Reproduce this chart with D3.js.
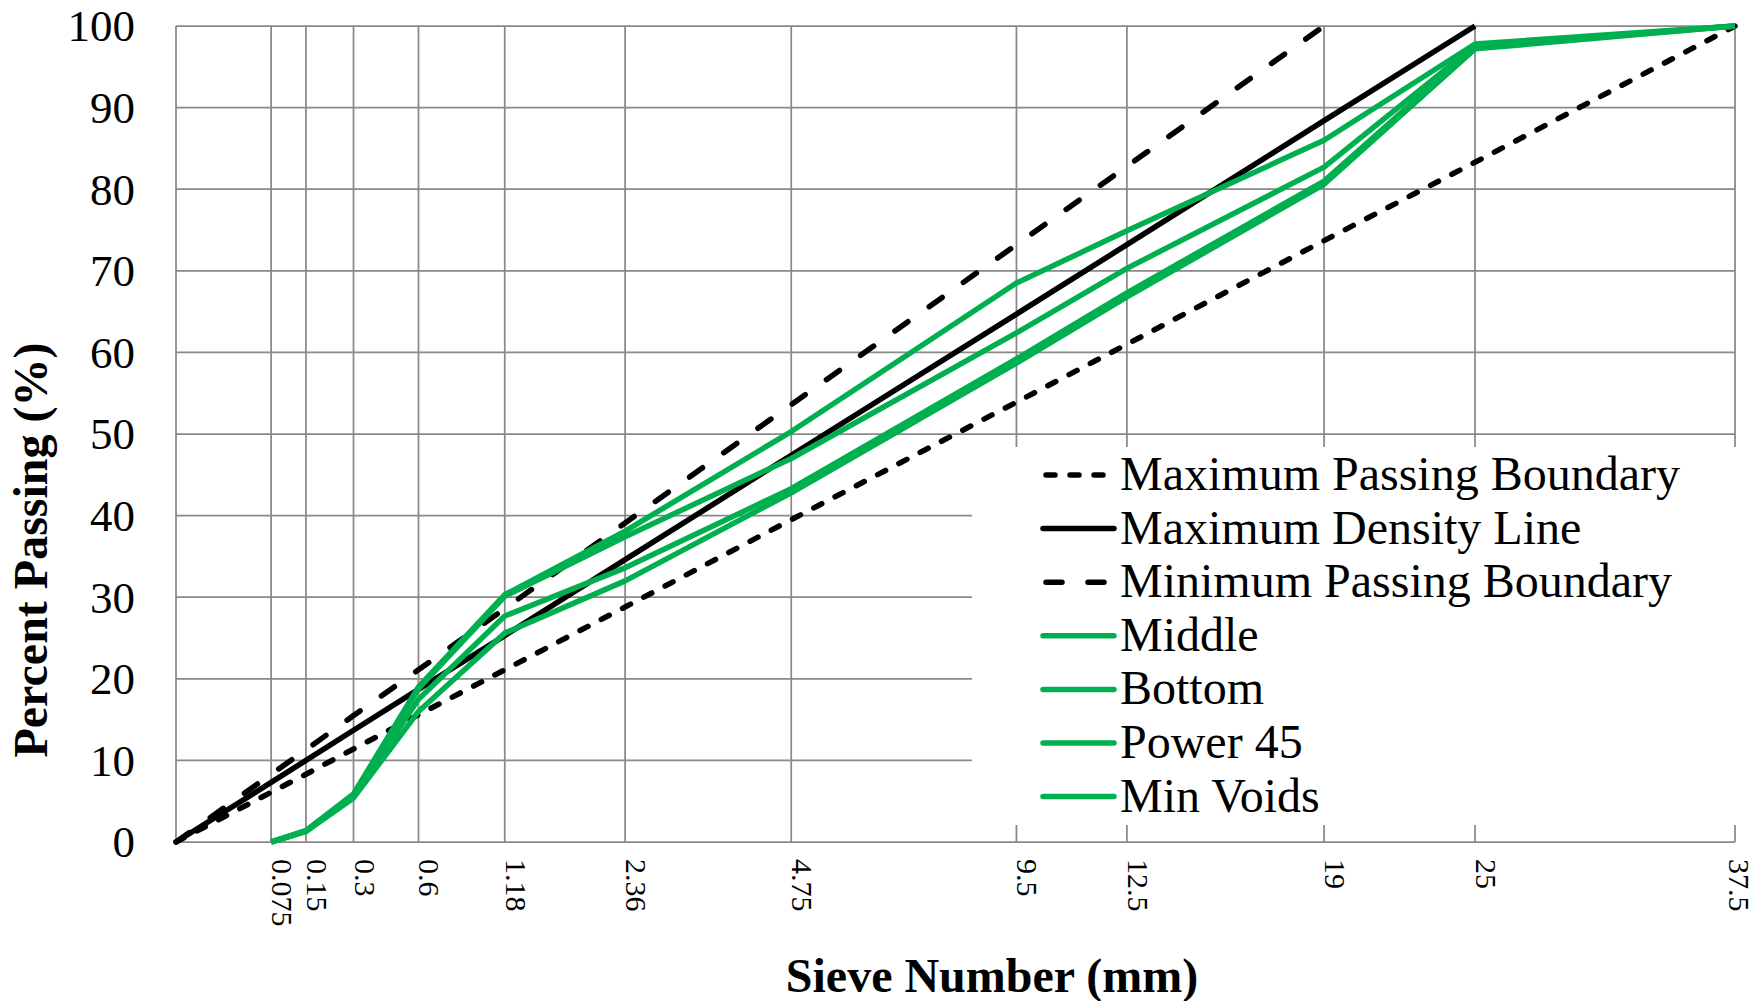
<!DOCTYPE html>
<html>
<head>
<meta charset="utf-8">
<script src="https://cdn.jsdelivr.net/npm/d3@7"></script>
<style>
  body { margin: 0; background: #fff; }
  svg text { font-family: "Liberation Serif", "Times New Roman", serif; fill: #000; }
</style>
</head>
<body>
<div id="chart"></div>
<script>
// sieve sizes (mm) and their labels
const sieves = [0.075, 0.15, 0.3, 0.6, 1.18, 2.36, 4.75, 9.5, 12.5, 19, 25, 37.5];
const sieveLabels = ['0.075', '0.15', '0.3', '0.6', '1.18', '2.36', '4.75', '9.5', '12.5', '19', '25', '37.5'];
const yTicks = [0, 10, 20, 30, 40, 50, 60, 70, 80, 90, 100];

// reference lines, all starting at the origin
const maxPassSizes = [0, 0.075, 0.15, 0.3, 0.6, 1.18, 2.36, 4.75, 9.5, 12.5, 19, 25, 37.5];
const maxPassing   = [0, 6.1, 8.3, 11.4, 15.6, 21.1, 28.8, 39.5, 53.9, 61.0, 73.7, 83.3, 100];
const mdlSizes     = [0, 0.075, 0.15, 0.3, 0.6, 1.18, 2.36, 4.75, 9.5, 12.5, 19, 25];
const maxDensity   = [0, 7.3, 10.0, 13.7, 18.7, 25.3, 34.6, 47.4, 64.7, 73.2, 88.4, 100];
const minPassSizes = [0, 0.075, 0.15, 0.3, 0.6, 1.18, 2.36, 4.75, 9.5, 12.5, 19];
const minPassing   = [0, 8.3, 11.3, 15.5, 21.1, 28.6, 39.1, 53.6, 73.2, 82.8, 100];

// measured gradations (on the sieves above)
const middle   = [0, 1.4, 5.9, 19.0, 30.3, 38.1, 50.3, 68.5, 74.9, 86.0, 97.8, 100];
const bottom   = [0, 1.3, 5.6, 17.5, 27.7, 33.6, 43.3, 59.2, 67.3, 81.0, 97.4, 100];
const power45  = [0, 1.4, 5.8, 18.8, 30.1, 37.4, 47.0, 62.4, 70.3, 82.7, 97.6, 100];
const minVoids = [0, 1.3, 5.4, 16.0, 25.6, 32.0, 42.8, 58.7, 66.8, 80.6, 97.2, 100];

const width = 1755, height = 1001;
const plotLeft = 176, plotRight = 1735, plotTop = 26, plotBottom = 842;
const green = '#00b050';

const svg = d3.select('#chart').append('svg')
    .attr('width', width)
    .attr('height', height);

// 0.45 power chart
const x = d3.scalePow().exponent(0.45).domain([0, 37.5]).range([plotLeft, plotRight]);
const y = d3.scaleLinear().domain([0, 100]).range([plotBottom, plotTop]);

const grid = svg.append('g').attr('stroke', '#898989').attr('stroke-width', 1.75);
grid.selectAll('.h').data(yTicks).enter().append('line')
    .attr('x1', plotLeft).attr('x2', plotRight)
    .attr('y1', d => y(d)).attr('y2', d => y(d));
grid.selectAll('.v').data([0].concat(sieves)).enter().append('line')
    .attr('x1', d => x(d)).attr('x2', d => x(d))
    .attr('y1', plotTop).attr('y2', plotBottom);

// y tick labels
svg.append('g').selectAll('text').data(yTicks).enter().append('text')
    .attr('x', 135)
    .attr('y', d => y(d))
    .attr('dy', '0.34em')
    .attr('text-anchor', 'end')
    .style('font-size', '45px')
    .text(d => d);

// rotated sieve labels (the last one kept inside the picture)
const labelX = d => Math.min(x(d) + 1, width - 26);
svg.append('g').selectAll('text').data(sieves).enter().append('text')
    .attr('x', d => labelX(d))
    .attr('y', 859)
    .attr('transform', d => `rotate(90, ${labelX(d)}, 859)`)
    .attr('text-anchor', 'start')
    .style('font-size', '30px')
    .text((d, i) => sieveLabels[i]);

svg.append('text')
    .attr('x', 992)
    .attr('y', 992)
    .attr('text-anchor', 'middle')
    .style('font-size', '48px')
    .style('font-weight', 'bold')
    .text('Sieve Number (mm)');

svg.append('text')
    .attr('transform', 'translate(47, 550) rotate(-90)')
    .attr('text-anchor', 'middle')
    .style('font-size', '48px')
    .style('font-weight', 'bold')
    .text('Percent Passing (%)');

const series = [
  { name: 'Maximum Passing Boundary', sizes: maxPassSizes, values: maxPassing, color: '#000', dash: '9,15' },
  { name: 'Maximum Density Line', sizes: mdlSizes, values: maxDensity, color: '#000', dash: null },
  { name: 'Minimum Passing Boundary', sizes: minPassSizes, values: minPassing, color: '#000', dash: '16,26' },
  { name: 'Middle', sizes: sieves, values: middle, color: green, dash: null },
  { name: 'Bottom', sizes: sieves, values: bottom, color: green, dash: null },
  { name: 'Power 45', sizes: sieves, values: power45, color: green, dash: null },
  { name: 'Min Voids', sizes: sieves, values: minVoids, color: green, dash: null }
];

const line = d3.line()
    .x(d => x(d[0]))
    .y(d => y(d[1]));

svg.append('g').selectAll('path').data(series).enter().append('path')
    .attr('d', s => line(s.sizes.map((d, i) => [d, s.values[i]])))
    .attr('fill', 'none')
    .attr('stroke', s => s.color)
    .attr('stroke-width', 5.5)
    .attr('stroke-linejoin', 'round')
    .attr('stroke-linecap', s => s.dash ? 'round' : 'butt')
    .attr('stroke-dasharray', s => s.dash);

// legend, drawn on a white box over the grid
const legend = svg.append('g');
legend.append('rect')
    .attr('x', 972).attr('y', 447)
    .attr('width', width - 972).attr('height', 378)
    .attr('fill', '#fff');

const rows = legend.selectAll('g.row').data(series).enter().append('g')
    .attr('transform', (d, i) => `translate(0, ${490 + i * 53.6})`);
rows.append('line')
    .attr('x1', d => d.dash ? 1046 : 1043).attr('x2', d => d.dash ? 1112 : 1114)
    .attr('y1', -15).attr('y2', -15)
    .attr('stroke', d => d.color)
    .attr('stroke-width', 5.5)
    .attr('stroke-linecap', 'round')
    .attr('stroke-dasharray', d => d.dash);
rows.append('text')
    .attr('x', 1120)
    .attr('y', 0)
    .style('font-size', '48px')
    .text(d => d.name);
</script>
</body>
</html>
